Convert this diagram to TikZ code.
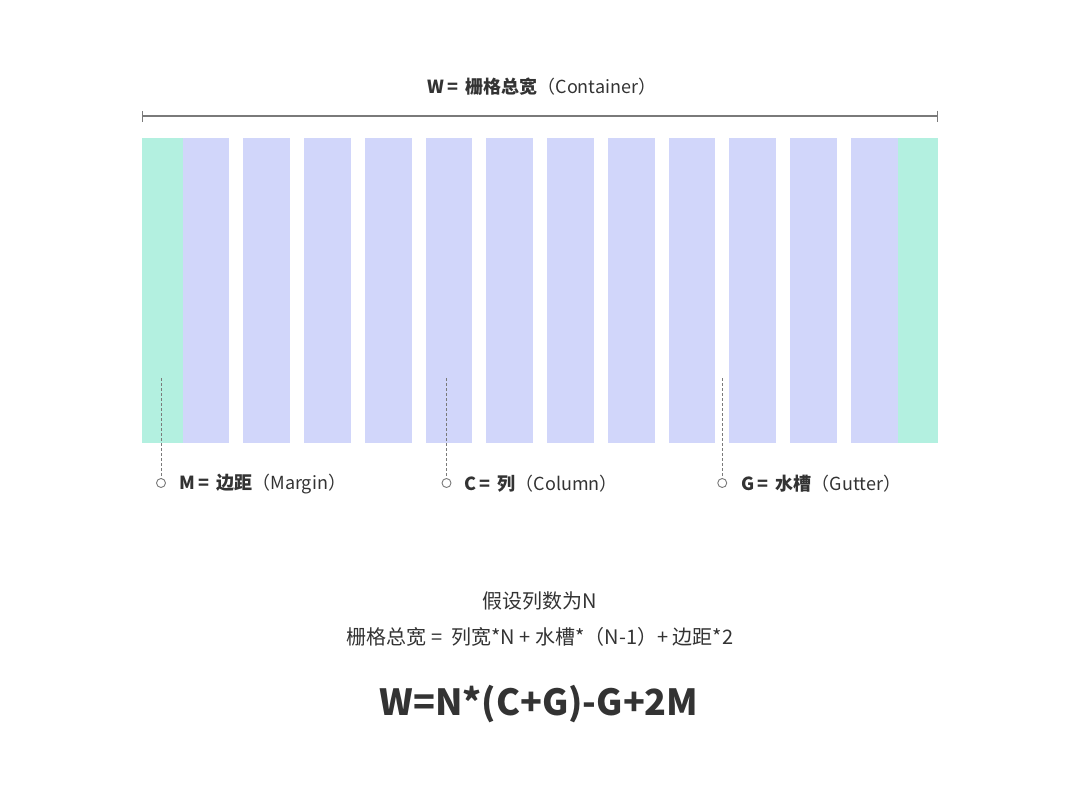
\documentclass[tikz,border=0pt]{standalone}
\usepackage{fontspec}
\setmainfont{Noto Sans CJK SC}
\usetikzlibrary{arrows.meta}
\definecolor{margin}{HTML}{B3F0E0}
\definecolor{column}{HTML}{D1D6FA}
\definecolor{ink}{HTML}{333333}
\definecolor{leader}{HTML}{7A7A7A}

\begin{document}
\begin{tikzpicture}[x=1pt,y=-1pt,
  label/.style={ink, anchor=west, font=\fontsize{18}{21}\selectfont},
  dot/.style={circle, draw=leader, fill=white, line width=0.9pt, inner sep=0pt, minimum size=9pt},
  lead/.style={leader, line width=0.9pt, dash pattern=on 3pt off 2pt}]
\useasboundingbox (0,0) rectangle (1080,811);

% margins
\fill[margin](142,138) rectangle (182.5,443);
\fill[margin](897.5,138) rectangle (938,443);

% columns
\fill[column](182.5,138) rectangle (229.25,443);
\fill[column](243.25,138) rectangle (290,443);
\fill[column](304,138) rectangle (350.75,443);
\fill[column](364.75,138) rectangle (411.5,443);
\fill[column](425.5,138) rectangle (472.25,443);
\fill[column](486.25,138) rectangle (533,443);
\fill[column](547,138) rectangle (593.75,443);
\fill[column](607.75,138) rectangle (654.5,443);
\fill[column](668.5,138) rectangle (715.25,443);
\fill[column](729.25,138) rectangle (776,443);
\fill[column](790,138) rectangle (836.75,443);
\fill[column](850.75,138) rectangle (897.5,443);

% total width
\coordinate (wl) at (142,116);
\coordinate (wr) at (938,116);
\draw[leader, line width=1.2pt, {Bar[width=11pt]}-{Bar[width=11pt]}] (wl)--(wr);
\node[ink, font=\fontsize{18}{21}\selectfont] at (542,87) (wlabel) {\textbf{W\,=\, 栅格总宽}（Container）};

% leaders
 \coordinate (mtop) at (161,378);
 \node[dot] at (161,483) (mdot) {};
 \draw[lead] (mtop)--(mdot);
 \node[label] at (176,484) (mlabel) {\textbf{M\,=\, 边距}（Margin）};

 \coordinate (ctop) at (446.5,378);
 \node[dot] at (446.5,483) (cdot) {};
 \draw[lead] (ctop)--(cdot);
 \node[label] at (461,484) (clabel) {\textbf{C\,=\, 列}（Column）};

 \coordinate (gtop) at (722.25,378);
 \node[dot] at (722.25,483) (gdot) {};
 \draw[lead] (gtop)--(gdot);
 \node[label] at (738,484) (glabel) {\textbf{G\,=\, 水槽}（Gutter）};

% formula
 \node[ink, font=\fontsize{20}{24}\selectfont] at (540,601) (assume) {假设列数为N};
 \node[ink, font=\fontsize{20}{24}\selectfont] at (540,637) (words) {栅格总宽 = \ 列宽*N + 水槽*（N-1）+ 边距*2};
 \node[ink, font=\fontsize{36}{44}\selectfont\bfseries] at (539,704) (formula) {W=N*(C+G)-G+2M};

\end{tikzpicture}
\end{document}
